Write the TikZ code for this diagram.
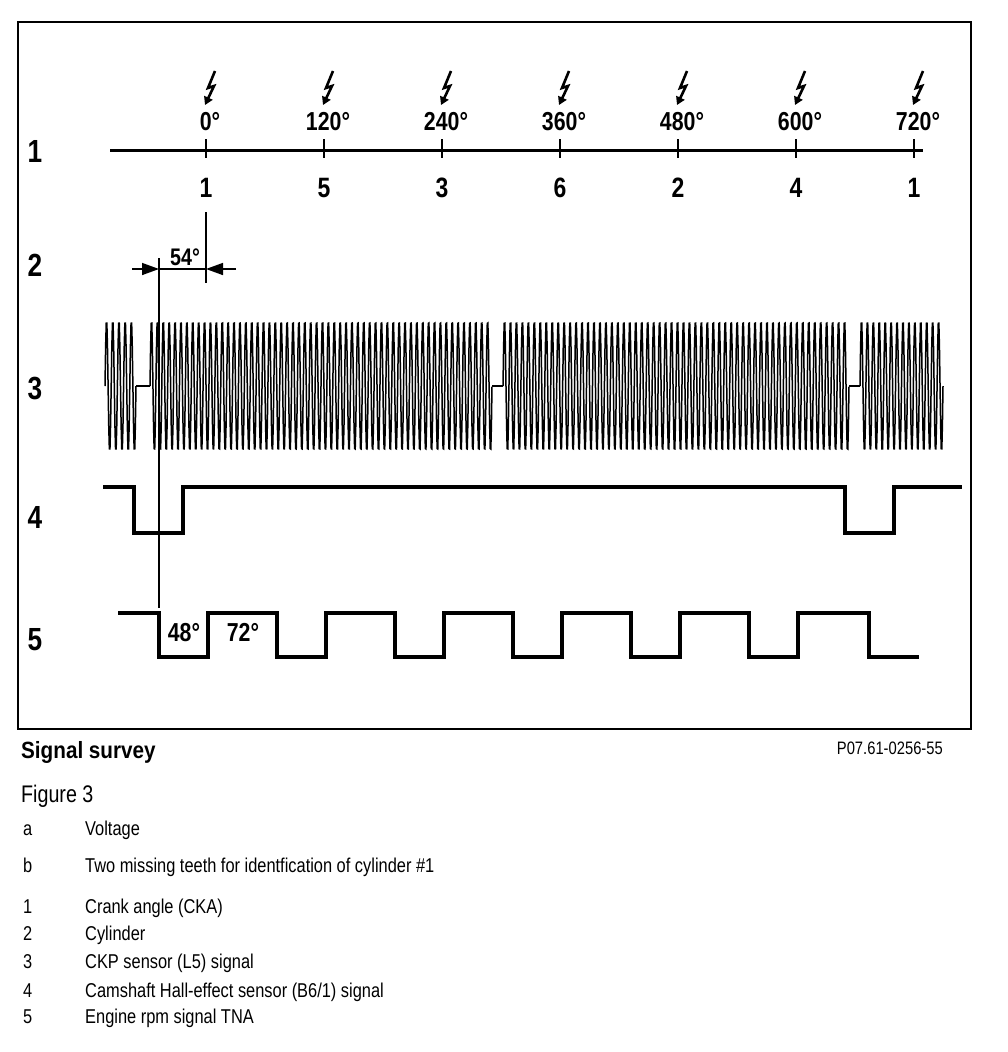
\documentclass[tikz,border=0pt]{standalone}
\usepackage{fontspec}
\setmainfont{Liberation Sans}
\newfontfamily\narrow{Liberation Sans}[FakeStretch=0.82]
\newfontfamily\titlefont{Liberation Sans}[FakeStretch=0.88]
\usetikzlibrary{arrows.meta}

\begin{document}
\begin{tikzpicture}[x=1pt, y=-1pt,
frame/.style   = {line width=1.7pt},
axis/.style    = {line width=3pt},
tick/.style    = {line width=1.6pt},
bolt/.style    = {line width=2.6pt, -{Triangle[length=8pt,width=9pt]}},
sig/.style     = {line width=3.8pt},
ckp/.style     = {line width=1.5pt},
guide/.style   = {line width=2.4pt},
dimline/.style = {line width=1.5pt},
dimarrow/.style= {line width=1.5pt, -{Triangle[length=17pt,width=12pt]}},
rowlbl/.style  = {inner sep=0pt, font=\narrow\bfseries\fontsize{32}{34}\selectfont},
anglbl/.style  = {inner sep=0pt, font=\narrow\bfseries\fontsize{26}{28}\selectfont},
cyllbl/.style  = {inner sep=0pt, font=\narrow\bfseries\fontsize{28}{30}\selectfont},
deglbl/.style  = {inner sep=0pt, font=\narrow\bfseries\fontsize{26}{28}\selectfont},
legend/.style  = {inner sep=0pt, anchor=base west, font=\narrow\fontsize{20}{22}\selectfont},
                        ]
\useasboundingbox (0,0) rectangle (1008,1052);
\draw[frame] (18,22) rectangle (971,729);

% row numbers
\foreach \r/\ry in {1/151, 2/265, 3/389, 4/517, 5/640}
  \node (r\r) [rowlbl] at (35,\ry) {\r};

% 1: crank angle
\coordinate (ax0) at (110,150);
\coordinate (ax1) at (923,150);
\draw[axis] (ax0) -- (ax1);
\foreach \i in {0,...,6} {
  \pgfmathsetmacro\px{206+118*\i}
  \pgfmathtruncatemacro\deg{120*\i}
  \coordinate (t\i) at (\px,150);
  \draw[tick] (\px,139) -- (\px,158);
  \draw[bolt] (\px+9,71) -- (\px+2,88) -- (\px+8,86) -- (\px-1,105);
  \node (a\i) [anglbl] at (\px+4,122) {\deg°};
}

% 2: cylinder
\foreach \c [count=\i from 0] in {1,5,3,6,2,4,1}
  \node (c\i) [cyllbl] at (206+118*\i,188) {\c};

% 54 deg dimension
\coordinate (e0) at (206,212);
\coordinate (e1) at (206,283);
\coordinate (g0) at (159,258);
\coordinate (g1) at (159,608);
\draw[dimline] (e0) -- (e1);
\draw[guide] (g0) -- (g1);
\draw[dimarrow] (132,269) -- (159,269);
\draw[dimline] (159,269) -- (206,269);
\draw[dimarrow] (236,269) -- (206,269);
\node (d54) [deglbl, font=\narrow\bfseries\fontsize{24}{26}\selectfont] at (185,257) {54°};

% 3: CKP sensor signal
\foreach \a/\b/\n in {105/136/5, 150/492/58, 503/849/58, 860/943/14} {
  \pgfmathtruncatemacro\ns{10*\n+1}
  \draw[ckp] plot[domain=\a:\b, samples=\ns]
    (\x, {386-66*sin(360*mod(\n*((\x-\a)/(\b-\a)),1))});
}
\foreach \a/\b in {136/150, 492/503, 849/860}
  \draw[ckp, line width=1.8pt] (\a,386) -- (\b,386);

% 4: camshaft Hall signal
\draw[sig] (103,487) -- (134,487) -- (134,533) -- (183,533) -- (183,487)
  -- (845,487) -- (845,533) -- (894,533) -- (894,487) -- (962,487);

% 5: engine rpm signal
\draw[sig] (118,613) \foreach \k in {0,...,5} {
    -- (159+118*\k,613) -- (159+118*\k,657) -- (208+118*\k,657) -- (208+118*\k,613) }
  -- (869,613) -- (869,657) -- (919,657);
\node (d48) [deglbl] at (184,633) {48°};
\node (d72) [deglbl] at (243,632) {72°};

% caption and legend
\node (title) [inner sep=0pt, anchor=base west, font=\titlefont\bfseries\fontsize{23.5}{26}\selectfont]
  at (21,758) {Signal survey};
\node (code) [inner sep=0pt, anchor=base east, font=\narrow\fontsize{18}{20}\selectfont]
  at (943,754) {P07.61-0256-55};
\node (fig) [inner sep=0pt, anchor=base west, font=\narrow\fontsize{24}{26}\selectfont]
  at (21,802) {Figure 3};
\foreach \k/\t/\ly in {a/Voltage/835,
    b/Two missing teeth for identfication of cylinder \#1/872,
    1/Crank angle (CKA)/913,
    2/Cylinder/940,
    3/CKP sensor (L5) signal/968,
    4/{Camshaft Hall-effect sensor (B6/1) signal}/997,
    5/Engine rpm signal TNA/1023} {
  \node (k\k) [legend] at (23,\ly) {\k};
  \node (l\k) [legend] at (85,\ly) {\t};
}
\end{tikzpicture}
\end{document}
